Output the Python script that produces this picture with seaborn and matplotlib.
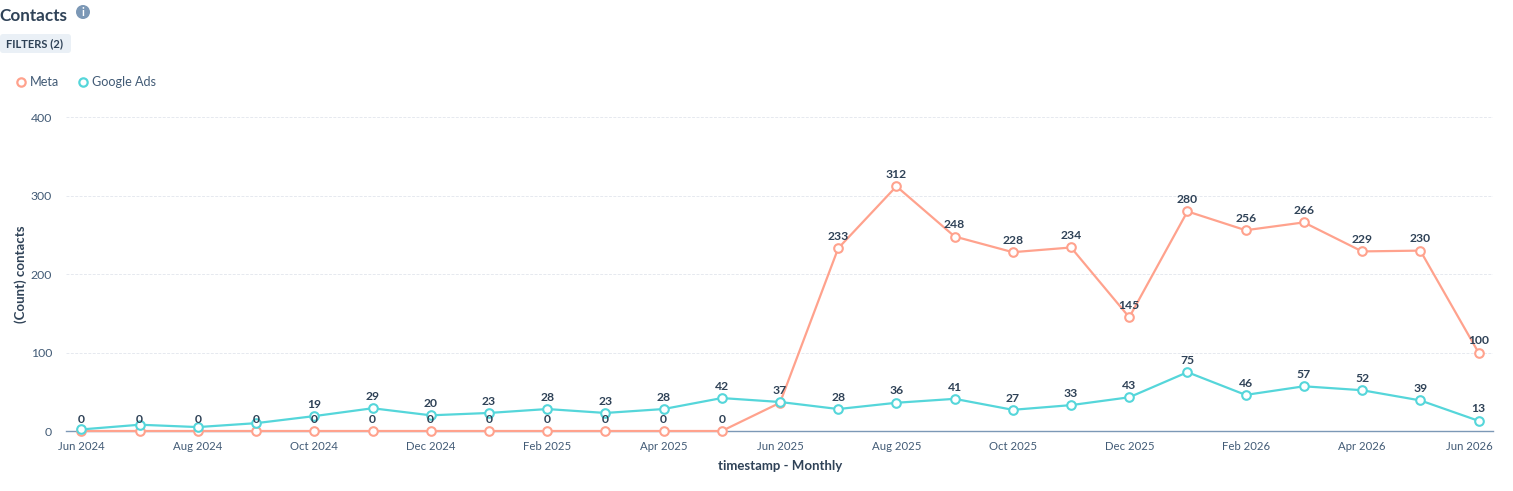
import matplotlib
matplotlib.use("Agg")
import matplotlib.pyplot as plt
import matplotlib.transforms as mtrans
from matplotlib.lines import Line2D
from matplotlib.patches import Circle, FancyBboxPatch
import pandas as pd
import seaborn as sns

months = ["Jun 2024", "Jul 2024", "Aug 2024", "Sep 2024", "Oct 2024", "Nov 2024", "Dec 2024",
          "Jan 2025", "Feb 2025", "Mar 2025", "Apr 2025", "May 2025", "Jun 2025", "Jul 2025",
          "Aug 2025", "Sep 2025", "Oct 2025", "Nov 2025", "Dec 2025", "Jan 2026", "Feb 2026",
          "Mar 2026", "Apr 2026", "May 2026", "Jun 2026"]
meta = [0, 0, 0, 0, 0, 0, 0, 0, 0, 0, 0, 0, 36, 233, 312, 248, 228, 234, 145, 280, 256, 266, 229, 230, 100]
google_ads = [2, 8, 5, 10, 19, 29, 20, 23, 28, 23, 28, 42, 37, 28, 36, 41, 27, 33, 43, 75, 46, 57, 52, 39, 13]
# Months whose value label is left out because it would collide with the other series
meta_unlabelled = ["Jun 2025"]
google_unlabelled = ["Jun 2024", "Jul 2024", "Aug 2024", "Sep 2024"]
series_names = ["Meta", "Google Ads"]
palette = {"Meta": "#ffa28d", "Google Ads": "#55d6da"}
y_ticks = [0, 100, 200, 300, 400]

INK = "#2f4257"
TICK_INK = "#425b76"
AXIS = "#7c98b6"
GRID = "#e6e9ef"
W, H = 1513, 491

sns.set_theme(style="white")
plt.rcParams["font.family"] = ["Lato", "DejaVu Sans"]

df = pd.DataFrame({"month": months, "Meta": meta, "Google Ads": google_ads}).melt(
    id_vars="month", value_vars=series_names, var_name="source", value_name="contacts")

fig = plt.figure(figsize=(W / 100, H / 100), dpi=100, facecolor="white")
ax = fig.add_axes([66 / W, 1 - 431 / H, (1493 - 66) / W, (431 - 117.3) / H])

sns.lineplot(data=df, x="month", y="contacts", hue="source", hue_order=series_names,
             palette=palette, sort=False, errorbar=None, ax=ax, legend=False,
             marker="o", markersize=6.2, markerfacecolor="white", markeredgewidth=1.5,
             linewidth=1.6, clip_on=False)
for line, name in zip(ax.lines, series_names):
    line.set_markeredgecolor(palette[name])
    line.set_clip_on(False)
    line.set_zorder(4 if name == "Google Ads" else 3)

ax.set_xlim(-15.5 / 58.25, 24 + 14.5 / 58.25)
ax.set_ylim(0, 400)
ax.set_yticks(y_ticks)
ax.set_xticks(range(0, len(months), 2))
ax.set_xticklabels(months[::2])
ax.grid(axis="y", color=GRID, linewidth=0.7, linestyle=(0, (3, 1.5)))
ax.set_axisbelow(True)
sns.despine(ax=ax, left=True, top=True, right=True)
ax.spines["bottom"].set_color(AXIS)
ax.spines["bottom"].set_linewidth(1.0)
ax.tick_params(axis="y", length=0, pad=10, labelsize=8.8, labelcolor=TICK_INK)
ax.tick_params(axis="x", length=4, width=0.8, color=AXIS, pad=3, labelsize=8.2, labelcolor=TICK_INK)

# Keep the last month label inside the plot's right edge
last = ax.get_xticklabels()[-1]
last.set_ha("right")
last.set_transform(last.get_transform() + mtrans.ScaledTranslation(10 / 72, 0, fig.dpi_scale_trans))

ax.set_xlabel("timestamp - Monthly", fontsize=9.5, fontweight="bold", color=INK, labelpad=0)
ax.xaxis.set_label_coords(714 / 1427, -29 / 313.7)
ax.set_ylabel("(Count) contacts", fontsize=9.5, fontweight="bold", color=INK)
ax.yaxis.set_label_coords((27 - 66) / 1427, (431 - 274) / 313.7)

# Value labels above the points
for values, skipped in ((meta, meta_unlabelled), (google_ads, google_unlabelled)):
    for i, (month, value) in enumerate(zip(months, values)):
        if month not in skipped:
            ax.annotate(str(value), (i, value), xytext=(0, 8.5), textcoords="offset points",
                        ha="center", va="center", fontsize=8.7, fontweight="bold",
                        color=INK, zorder=6, annotation_clip=False)

# Header: title, info badge and filter pill
fig.text(-1 / W, 1 - 16 / H, "Contacts", fontsize=12.3, fontweight="bold", color=INK,
         ha="left", va="center")
overlay = fig.add_axes([0, 0, 1, 1], facecolor="none")
overlay.set_xlim(0, W)
overlay.set_ylim(H, 0)
overlay.axis("off")
overlay.add_patch(Circle((83, 12), 7, facecolor="#7c98b6", edgecolor="none"))
overlay.text(83, 12.3, "i", fontsize=8, fontweight="bold", color="white", ha="center", va="center")
overlay.add_patch(FancyBboxPatch((0, 34), 71, 19, boxstyle="round,pad=0,rounding_size=3",
                                 facecolor="#eaf0f6", edgecolor="none", mutation_aspect=1))
overlay.text(6, 44, "FILTERS (2)", fontsize=8.0, fontweight="bold", color=INK, ha="left", va="center")

# Legend across the top
handles = [Line2D([], [], linestyle="none", marker="o", markersize=6, markerfacecolor="white",
                  markeredgewidth=1.6, markeredgecolor=palette[name]) for name in series_names]
legend = fig.legend(handles, series_names, loc="upper left", bbox_to_anchor=(12 / W, 1 - 76 / H),
                    ncol=2, frameon=False, fontsize=9.1, labelcolor=TICK_INK, handletextpad=0.05,
                    columnspacing=1.15, handlelength=1.4, borderpad=0, borderaxespad=0)

fig.savefig("out.png", dpi=100, facecolor="white")
